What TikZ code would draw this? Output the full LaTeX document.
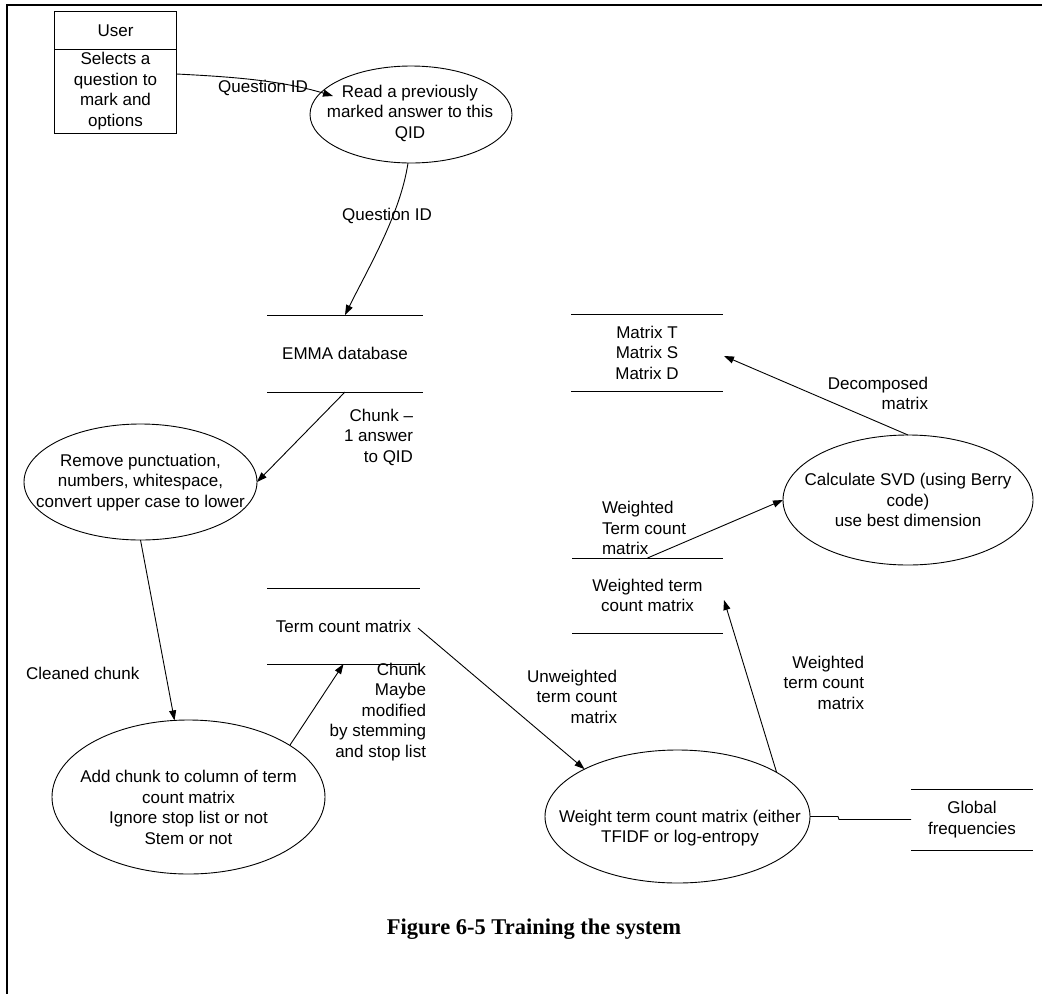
\documentclass[tikz,border=0pt]{standalone}
\usepackage{fontspec}
\setmainfont{Liberation Sans}
\newfontfamily\captionfont{Liberation Serif}
\usetikzlibrary{shapes.geometric,arrows.meta,calc}
\begin{document}
\begin{tikzpicture}[x=1pt,y=-1pt,
  every node/.style={inner sep=0pt, outer sep=0pt, font=\fontsize{17}{20.5}\selectfont},
  process/.style={draw, ellipse, line width=0.9pt},
  store/.style={rectangle, align=center},
  storeline/.style={line width=0.9pt},
  txt/.style={align=center},
  rlbl/.style={align=right, anchor=east},
  llbl/.style={align=left, anchor=west},
  flow/.style={line width=0.9pt, -{Triangle[length=10pt,width=7pt]}},
  plain/.style={line width=0.9pt},
  frame/.style={line width=2pt, line join=miter}]

\useasboundingbox (0,0) rectangle (1042,994);

% page frame (top and left edges)
\coordinate (ftl) at (6.5,5);
\coordinate (ftr) at (1042,5);
\coordinate (fbl) at (6.5,994);
\draw[frame] (ftr) -- (ftl) -- (fbl);

% external entity: user
\node[draw, line width=0.9pt, minimum width=122pt, minimum height=122pt] (user) at (115.5,72) {};
\coordinate (udiv) at (0,49);
\draw[plain] (user.west |- udiv) -- (user.east |- udiv);
\node[txt] (usertitle) at (115.5,31) {User};
\node[txt] (userdesc) at (115.5,91) {Selects a\\question to\\mark and\\options};

% processes
\node[process, minimum width=202pt, minimum height=97pt] (p1) at (411,114.5) {};
\node[txt] (p1text) at (410,113) {Read a previously\\marked answer to this\\QID};

\node[process, minimum width=233pt, minimum height=116pt] (p2) at (140.5,482) {};
\node[txt] (p2text) at (140.5,482.5) {Remove punctuation,\\numbers, whitespace,\\convert upper case to lower};

\node[process, minimum width=273pt, minimum height=154pt] (p3) at (188.5,797) {};
\node[txt] (p3text) at (188.5,807.5) {Add chunk to column of term\\count matrix\\Ignore stop list or not\\Stem or not};

\node[process, minimum width=265pt, minimum height=133pt] (p4) at (677.5,816.5) {};
\node[txt] (p4text) at (680,828) {Weight term count matrix (either\\TFIDF or log-entropy};

\node[process, minimum width=250pt, minimum height=130pt] (svd) at (908,500) {};
\node[txt] (svdtext) at (908,500) {Calculate SVD (using Berry\\code)\\use best dimension};

% data stores
\node[store, minimum width=156pt, minimum height=77pt] (emma) at (345,353.5) {EMMA database};
\node[store, minimum width=153pt, minimum height=76pt] (termcount) at (343.5,626) {Term count matrix};
\node[store, minimum width=152pt, minimum height=77pt] (matrices) at (647,352.5) {Matrix T\\Matrix S\\Matrix D};
\node[store, minimum width=151pt, minimum height=75pt] (weighted) at (647.5,595.5) {Weighted term\\count matrix};
\node[store, minimum width=122pt, minimum height=61pt] (global) at (972,819.5) {Global\\frequencies};
\foreach \s in {emma,termcount,matrices,weighted,global}{
  \draw[storeline] (\s.north west) -- (\s.north east) (\s.south west) -- (\s.south east);
}

% flow labels
\node[txt] (qid1) at (263,88) {Question ID};
\node[txt] (qid2) at (387,216) {Question ID};
\node[rlbl] (chunklbl) at (413,437) {Chunk –\\1 answer\\to QID};
\node[llbl] (cleanlbl) at (26,673) {Cleaned chunk};
\node[rlbl] (stemlbl) at (426,712) {Chunk\\Maybe\\modified\\by stemming\\and stop list};
\node[rlbl] (unwlbl) at (617,696.5) {Unweighted\\term count\\matrix};
\node[rlbl] (wlbl) at (864,682.5) {Weighted\\term count\\matrix};
\node[llbl] (wtclbl) at (602,528) {Weighted\\Term count\\matrix};
\node[rlbl] (declbl) at (928,393.5) {Decomposed\\matrix};

% data flows
\coordinate (uout) at ($(user.east)+(0,2)$);
\coordinate (p1in) at ($(p1.center)+(-78,-18.5)$);
\draw[flow] (uout) .. controls ($(uout)+(53.5,2.7)$) and ($(p1in)+(-53,-15.9)$) .. (p1in);

\coordinate (p1out) at ($(p1.center)+(-3,48.5)$);
\draw[flow] (p1out) .. controls ($(p1out)+(-7.5,50)$) and ($(emma.north)+(25,-50)$) .. (emma.north);

\draw[flow] (emma.south) -- (p2.east);

\coordinate (p3in) at ($(p3.north)+(-14,0.4)$);
\draw[flow] (p2.south) -- (p3in);

\draw[flow] (p3.27) -- (termcount.south);

\coordinate (tcout) at ($(termcount.east)+(-2,2)$);
\draw[flow] (tcout) -- (p4.153);

\coordinate (wtin) at ($(weighted.east)+(1,4.5)$);
\draw[flow] (p4.24) -- (wtin);

\draw[flow] (weighted.north) -- (svd.west);

\coordinate (mxin) at ($(matrices.east)+(1,3.5)$);
\draw[flow] (svd.north) -- (mxin);

\draw[plain] (p4.east) -- ++(28,0) -- ++(1,3) -- (global.west);

% caption
\node[font=\captionfont\bfseries\fontsize{22.5}{27}\selectfont] (caption) at (534,929) {Figure 6-5 Training the system};
\end{tikzpicture}
\end{document}
